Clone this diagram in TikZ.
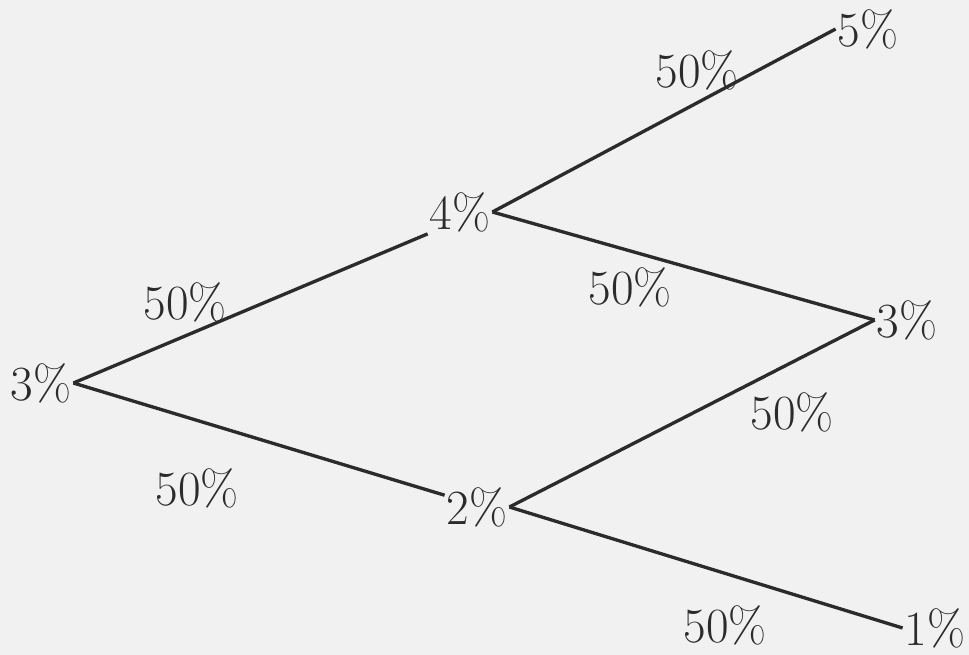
\documentclass[tikz,border=0pt]{standalone}
\definecolor{tinta}{HTML}{2B2B2B}
\definecolor{papel}{HTML}{F1F1F1}
\usepackage{tikz}
\usetikzlibrary{positioning}

\begin{document}
\begin{tikzpicture}[x=0.02cm, y=-0.02cm,
  rate/.style={text=tinta, font=\fontsize{28}{30}\selectfont, inner sep=1pt},
  prob/.style={text=tinta, font=\fontsize{28}{30}\selectfont, inner sep=1pt},
  branch/.style={draw=tinta, line width=1.9pt},
]
\fill[papel] (0,0) rectangle (969,655);
\useasboundingbox (0,0) rectangle (969,655);

% rates
\node[rate] (r0) at (41,383) {3\%};
\node[rate] (u1) at (460,212) {4\%};
\node[rate] (d1) at (477,507) {2\%};
\node[rate] (uu) at (868,29) {5\%};
\node[rate] (ud) at (907,320) {3\%};
\node[rate] (dd) at (935,628) {1\%};

% branches
\draw[branch] (r0.east) -- (u1.south west);
\draw[branch] (r0.east) -- (d1.160);
\draw[branch] (u1.east) -- (uu.west);
\draw[branch] (u1.east) -- (ud.west);
\draw[branch] (d1.east) -- (ud.west);
\draw[branch] (d1.east) -- (dd.west);

% probabilities
\node[prob] (pa) at (185,302) {50\%};
\node[prob] (pb) at (197,488) {50\%};
\node[prob] (pc) at (697,70) {50\%};
\node[prob] (pd) at (630,287) {50\%};
\node[prob] (pe) at (792,412) {50\%};
\node[prob] (pf) at (725,625) {50\%};
\end{tikzpicture}
\end{document}
